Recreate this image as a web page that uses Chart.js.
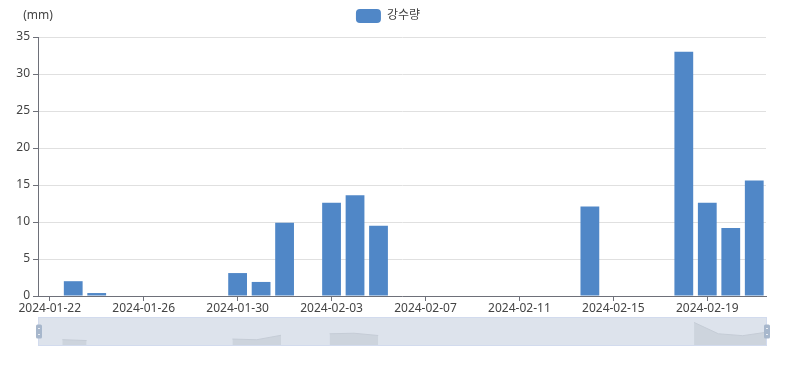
<!DOCTYPE html>
<html><head><meta charset="utf-8">
<script src="https://cdn.jsdelivr.net/npm/chart.js@4/dist/chart.umd.min.js"></script>
<style>
html,body{margin:0;padding:0;background:#fff;}
#wrap{position:relative;width:800px;height:390px;overflow:hidden;}
#main{position:absolute;left:0;top:0;}
#zoom{position:absolute;left:28px;top:314px;}
</style></head><body>
<div id="wrap">
<canvas id="main" width="800" height="320"></canvas>
<canvas id="zoom" width="748" height="36"></canvas>
</div>
<script>
const dates = ["2024-01-22","2024-01-23","2024-01-24","2024-01-25","2024-01-26","2024-01-27","2024-01-28","2024-01-29","2024-01-30","2024-01-31","2024-02-01","2024-02-02","2024-02-03","2024-02-04","2024-02-05","2024-02-06","2024-02-07","2024-02-08","2024-02-09","2024-02-10","2024-02-11","2024-02-12","2024-02-13","2024-02-14","2024-02-15","2024-02-16","2024-02-17","2024-02-18","2024-02-19","2024-02-20","2024-02-21"];
const rainfall = [null,2.0,0.4,null,null,null,null,null,3.1,1.9,9.9,null,12.6,13.6,9.5,null,null,null,null,null,null,null,null,12.1,null,null,null,33.0,12.6,9.2,15.6];
const seriesName = "강수량";
const yAxisName = "(mm)";
const yMin = 0, yMax = 35, yStep = 5;

const barColor = '#5087c7';
const axisColor = '#6e7079';
const textColor = '#444';
const FONT = "'Noto Sans', 'Noto Sans CJK KR', sans-serif";

const yNamePlugin = {
  id: 'yName',
  beforeInit(chart) {
    if (chart.legend) {
      const lg = chart.legend;
      const origFit = lg.fit;
      lg.fit = function() { origFit.call(this); this.height += 4; };
      const origDraw = lg._draw;
      lg._draw = function() {
        const ctx = this.ctx;
        ctx.save();
        ctx.translate(5, 0);
        origDraw.call(this);
        ctx.restore();
      };
    }
  },
  afterDraw(chart) {
    const ctx = chart.ctx, a = chart.chartArea;
    ctx.save();
    ctx.font = "12px " + FONT;
    ctx.fillStyle = textColor;
    ctx.textAlign = 'center';
    ctx.textBaseline = 'middle';
    ctx.fillText(yAxisName, a.left, 16);
    ctx.restore();
  }
};

new Chart(document.getElementById('main'), {
  type: 'bar',
  data: {
    labels: dates,
    datasets: [{
      label: seriesName,
      data: rainfall,
      backgroundColor: barColor,
      borderWidth: 0,
      categoryPercentage: 0.8,
      barPercentage: 1.0
    }]
  },
  options: {
    responsive: false,
    animation: false,
    layout: { padding: { left: 0, right: 34, top: 1, bottom: 0 } },
    plugins: {
      legend: {
        display: true,
        position: 'top',
        labels: {
          boxWidth: 25, boxHeight: 14, useBorderRadius: true, borderRadius: 4,
          padding: 8, color: textColor, font: { size: 12, family: FONT }
        }
      },
      tooltip: { enabled: false }
    },
    scales: {
      x: {
        offset: true,
        grid: {
          offset: false, drawOnChartArea: false, drawTicks: true, tickLength: 5,
          tickColor: (c) => (c.index % 4 === 0 ? axisColor : 'rgba(0,0,0,0)')
        },
        border: { display: true, color: axisColor, width: 1 },
        ticks: {
          autoSkip: false, maxRotation: 0, minRotation: 0, padding: 0,
          color: textColor, font: { size: 12, family: FONT },
          callback: function(v, i) { return i % 4 === 0 ? dates[i] : ''; }
        },
        afterFit(s) { s.height = 24; }
      },
      y: {
        min: yMin, max: yMax,
        grid: { color: '#e0e0e0', tickColor: axisColor, tickLength: 5, drawTicks: true },
        border: { display: true, color: axisColor, width: 1 },
        ticks: { stepSize: yStep, padding: 3, color: textColor, font: { size: 12, family: FONT } },
        afterFit(s) { s.width = 38; }
      }
    }
  },
  plugins: [yNamePlugin]
});

const sliderPlugin = {
  id: 'slider',
  beforeDatasetsDraw(chart) {
    const ctx = chart.ctx, a = chart.chartArea;
    ctx.save();
    ctx.fillStyle = '#dde3ec';
    ctx.fillRect(a.left, a.top, a.right - a.left, a.bottom - a.top);
    ctx.restore();
  },
  afterDraw(chart) {
    const ctx = chart.ctx, a = chart.chartArea;
    ctx.save();
    ctx.strokeStyle = '#d2dbee';
    ctx.lineWidth = 1;
    ctx.strokeRect(a.left + 0.5, a.top + 0.5, a.right - a.left - 1, a.bottom - a.top - 1);
    const cy = (a.top + a.bottom) / 2;
    [a.left + 1, a.right].forEach((x) => {
      ctx.fillStyle = '#a7b7cc';
      ctx.beginPath();
      ctx.roundRect(x - 3, cy - 7, 6, 14, 1.5);
      ctx.fill();
      ctx.strokeStyle = '#e8edf4';
      ctx.beginPath();
      ctx.moveTo(x - 1, cy - 3); ctx.lineTo(x + 1, cy - 3);
      ctx.moveTo(x - 1, cy + 3); ctx.lineTo(x + 1, cy + 3);
      ctx.stroke();
    });
    ctx.restore();
  }
};

new Chart(document.getElementById('zoom'), {
  type: 'line',
  data: {
    labels: dates,
    datasets: [{
      data: rainfall,
      fill: 'start',
      spanGaps: false,
      borderColor: '#c5ccd6',
      borderWidth: 1,
      backgroundColor: '#cdd4dd',
      pointRadius: 0,
      tension: 0
    }]
  },
  options: {
    responsive: false,
    animation: false,
    layout: { padding: { left: 10, right: 9, top: 3, bottom: 4 } },
    plugins: { legend: { display: false }, tooltip: { enabled: false } },
    scales: {
      x: { display: false, offset: false },
      y: { display: false, min: -9.4, max: 42.8 }
    }
  },
  plugins: [sliderPlugin]
});
</script>
</body></html>
